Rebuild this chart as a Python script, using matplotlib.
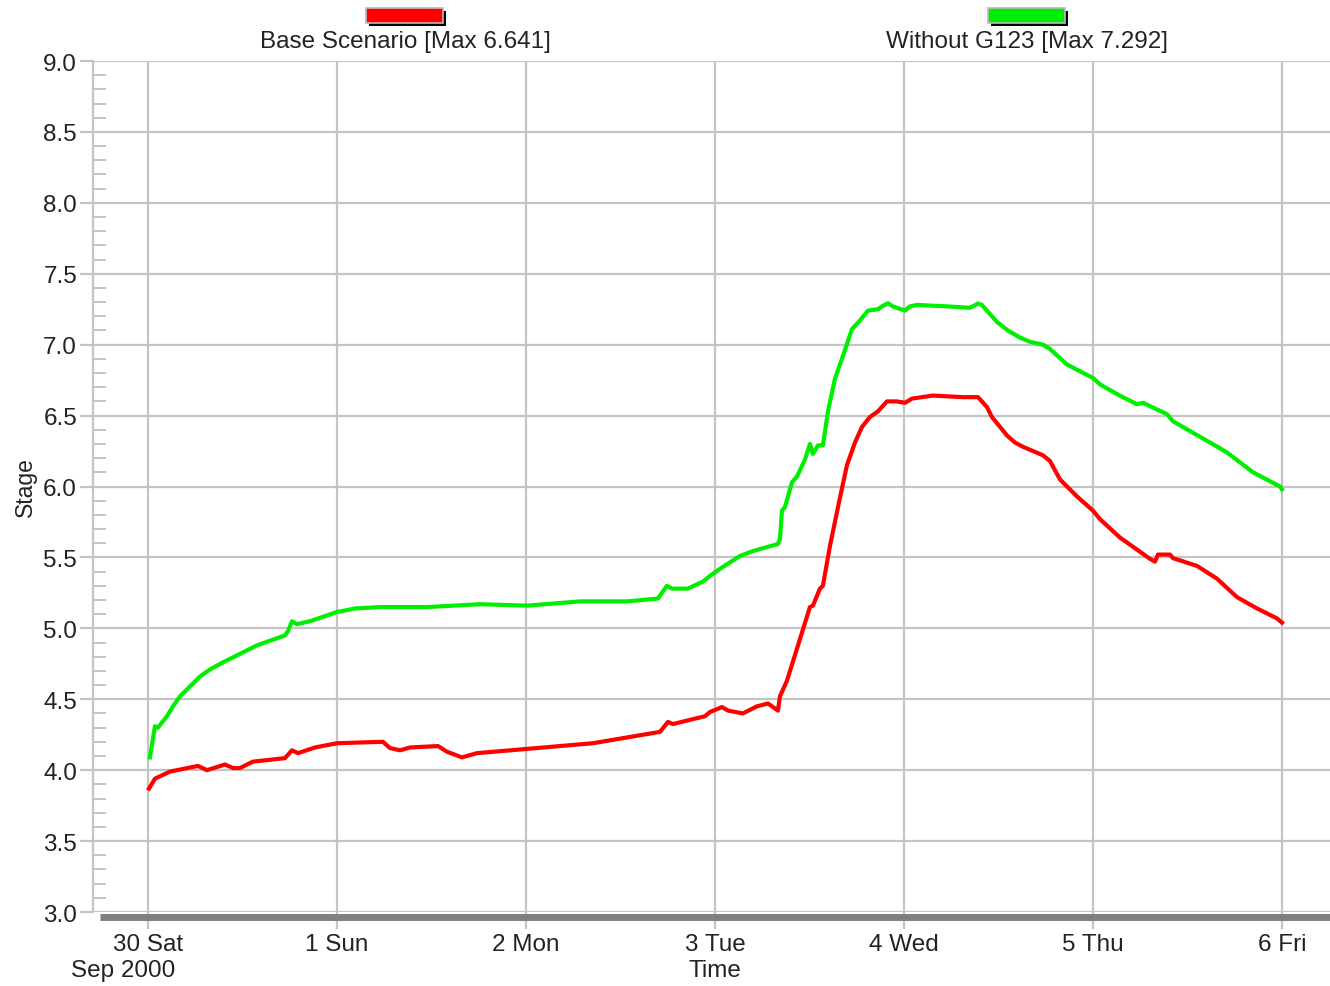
import matplotlib
matplotlib.use("Agg")
import matplotlib.pyplot as plt
import matplotlib.transforms as mtransforms
from matplotlib.patches import Rectangle
from matplotlib.ticker import FixedLocator, MultipleLocator, FormatStrFormatter
import numpy as np

plt.rcParams["font.family"] = ["Liberation Sans", "DejaVu Sans"]

# hours since 30 Sep 2000 00:00
base_hours = [0.13, 0.89, 2.79, 6.35, 7.49, 9.78, 10.79, 11.68, 13.33, 17.40, 18.29,
              19.05, 21.21, 24.0, 29.84, 30.73, 32.0, 33.27, 36.83, 37.97, 39.87,
              41.78, 48.13, 56.51, 65.02, 66.03, 66.67, 69.21, 70.73, 71.37, 72.89,
              73.65, 75.56, 77.33, 78.73, 80.0, 80.25, 81.14, 84.06, 84.44, 85.33,
              85.71, 86.60, 87.87, 88.76, 89.78, 90.67, 91.68, 92.70, 93.84, 95.11,
              96.13, 97.02, 99.68, 103.49, 105.40, 106.54, 107.17, 109.08, 110.10,
              111.11, 113.65, 114.54, 115.81, 117.97, 120.0, 120.89, 123.43, 127.24,
              127.87, 128.25, 129.78, 130.16, 133.21, 135.75, 138.29, 140.83, 143.37,
              144.0]
base_stage = [3.87, 3.94, 3.99, 4.03, 4.00, 4.04, 4.015, 4.015, 4.06, 4.085, 4.14,
              4.12, 4.16, 4.19, 4.20, 4.156, 4.14, 4.16, 4.17, 4.13, 4.09,
              4.12, 4.15, 4.19, 4.27, 4.34, 4.325, 4.36, 4.38, 4.41, 4.445,
              4.42, 4.40, 4.45, 4.47, 4.42, 4.52, 4.63, 5.15, 5.16, 5.28,
              5.30, 5.58, 5.92, 6.15, 6.31, 6.42, 6.49, 6.53, 6.60, 6.60,
              6.59, 6.62, 6.641, 6.63, 6.63, 6.56, 6.49, 6.36, 6.31,
              6.28, 6.22, 6.18, 6.05, 5.93, 5.83, 5.77, 5.64, 5.49,
              5.47, 5.52, 5.52, 5.495, 5.44, 5.35, 5.22, 5.14, 5.07,
              5.04]

g123_hours = [0.25, 0.89, 1.27, 2.41, 3.17, 4.06, 5.33, 6.60, 7.87, 9.52, 11.68,
              13.84, 15.87, 17.40, 17.78, 18.29, 18.92, 20.57, 24.0, 26.29, 29.46,
              35.43, 42.16, 48.13, 54.86, 60.83, 64.76, 65.90, 66.54, 68.57, 70.48,
              71.37, 72.64, 75.17, 76.83, 80.0, 80.25, 80.51, 80.89, 81.78, 82.41,
              83.43, 84.06, 84.44, 85.08, 85.71, 86.35, 87.24, 88.25, 89.40, 90.41,
              91.43, 92.70, 93.21, 93.97, 94.60, 96.13, 96.76, 97.65, 101.46, 104.38,
              105.40, 105.90, 107.81, 109.20, 110.73, 112.00, 113.65, 114.54, 116.70,
              120.0, 120.89, 123.43, 125.59, 126.35, 129.40, 130.16, 134.86, 137.02,
              140.32, 143.75, 144.0]
g123_stage = [4.09, 4.31, 4.30, 4.38, 4.45, 4.52, 4.59, 4.66, 4.71, 4.76, 4.82,
              4.88, 4.92, 4.95, 4.98, 5.05, 5.03, 5.05, 5.115, 5.14, 5.15,
              5.15, 5.17, 5.16, 5.19, 5.19, 5.21, 5.30, 5.28, 5.28, 5.33,
              5.37, 5.42, 5.51, 5.545, 5.595, 5.63, 5.83, 5.855, 6.03, 6.07,
              6.19, 6.30, 6.23, 6.29, 6.29, 6.53, 6.76, 6.92, 7.11, 7.17,
              7.24, 7.25, 7.27, 7.292, 7.27, 7.24, 7.27, 7.28, 7.27, 7.26,
              7.29, 7.28, 7.16, 7.10, 7.05, 7.02, 7.00, 6.97, 6.86,
              6.765, 6.72, 6.64, 6.58, 6.59, 6.51, 6.46, 6.31, 6.24,
              6.10, 6.00, 5.98]

day_labels = ["30 Sat", "1 Sun", "2 Mon", "3 Tue", "4 Wed", "5 Thu", "6 Fri"]
series_names = ["Base Scenario [Max 6.641]", "Without G123 [Max 7.292]"]
series_colors = ["#ff0000", "#00ee00"]

GRID = "#c4c4c4"
TEXT = "#222222"
FS = 17.5

fig = plt.figure(figsize=(13.3, 9.87), dpi=100)
ax = fig.add_axes([93 / 1330, 1 - 913 / 987, 1 - 93 / 1330, (913 - 62) / 987])

ax.plot(base_hours, base_stage, color=series_colors[0], lw=3.0, solid_joinstyle="round", zorder=3)
ax.plot(g123_hours, g123_stage, color=series_colors[1], lw=3.0, solid_joinstyle="round", zorder=3)

ax.set_xlim(-6.98, 150.1)
ax.set_ylim(3.0, 9.0)

ax.xaxis.set_major_locator(FixedLocator(np.arange(len(day_labels)) * 24))
ax.set_xticklabels(day_labels)
ax.yaxis.set_major_locator(MultipleLocator(0.5))
ax.yaxis.set_minor_locator(MultipleLocator(0.1))
ax.yaxis.set_major_formatter(FormatStrFormatter("%.1f"))

ax.grid(True, which="major", color=GRID, lw=1.6, zorder=1)
ax.set_axisbelow(True)

ax.tick_params(axis="x", which="major", direction="out", length=12, width=1.6,
               color=GRID, labelsize=FS, labelcolor=TEXT, pad=3)
ax.tick_params(axis="y", which="major", direction="out", length=9.5, width=1.6,
               color=GRID, labelsize=FS, labelcolor=TEXT, pad=2)
ax.tick_params(axis="y", which="minor", direction="in", length=9.5, width=1.4,
               color=GRID)

for side in ["top", "right", "bottom"]:
    ax.spines[side].set_visible(False)
ax.spines["left"].set_color(GRID)
ax.spines["left"].set_linewidth(1.6)

# thick time-axis bar
off = mtransforms.ScaledTranslation(0, -4.5 / 100, fig.dpi_scale_trans)
ax.plot([7 / 1237, 1], [0, 0], transform=ax.transAxes + off, color="#808080",
        lw=5, solid_capstyle="butt", clip_on=False, zorder=4)

fig.text(25 / 1330, 1 - 487 / 987, "Stage", rotation=90, ha="center", va="center",
         fontsize=16.5, color=TEXT)
fig.text(123 / 1330, 1 - 971 / 987, "Sep 2000", ha="center", va="center",
         fontsize=FS, color=TEXT)
fig.text(715 / 1330, 1 - 971 / 987, "Time", ha="center", va="center",
         fontsize=FS, color=TEXT)

# legend swatches at the top
for cx, name, col in zip([405, 1027], series_names, series_colors):
    x0 = (cx - 39) / 1330
    w = 77 / 1330
    y0 = 1 - 24 / 987
    h = 15 / 987
    fig.add_artist(Rectangle((x0 + 3 / 1330, y0 - 3 / 987), w, h, transform=fig.transFigure,
                             facecolor="black", edgecolor="none"))
    fig.add_artist(Rectangle((x0, y0), w, h, transform=fig.transFigure,
                             facecolor=col, edgecolor="#bbbbbb", lw=1.2))
    fig.text(cx / 1330, 1 - 42 / 987, name, ha="center", va="center",
             fontsize=FS, color=TEXT)

fig.savefig("out.png", dpi=100)
